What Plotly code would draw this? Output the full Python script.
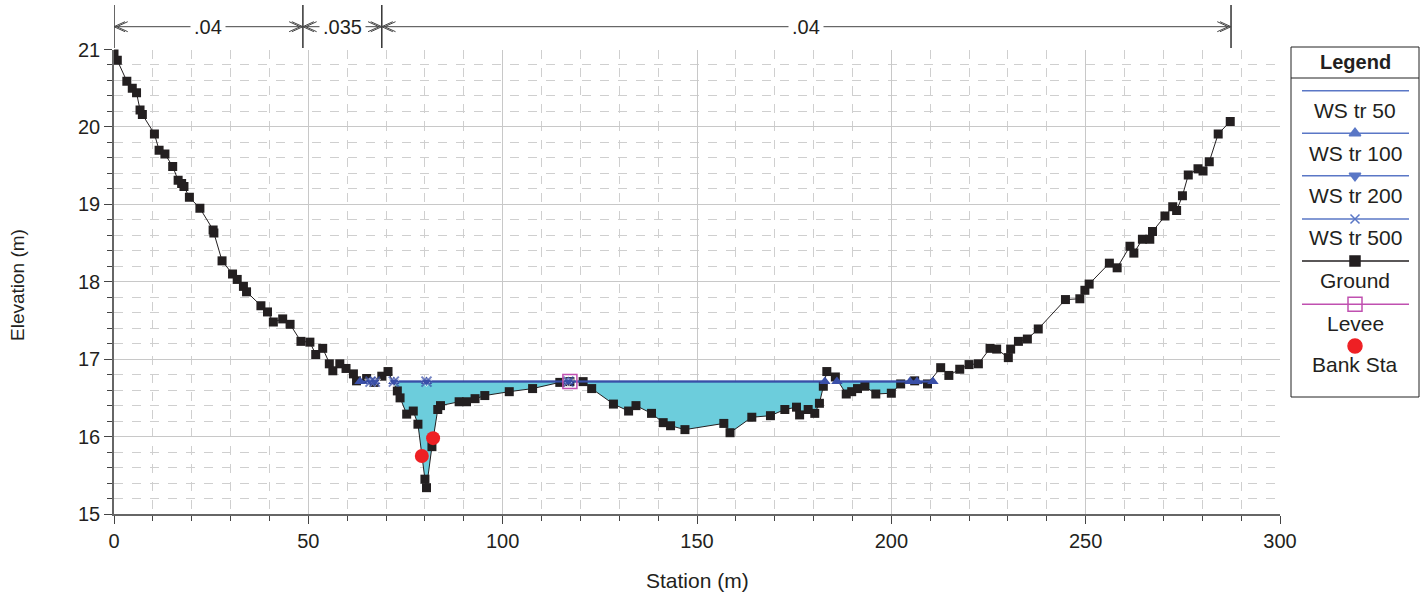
import numpy as np
import plotly.graph_objects as go

# ---------------- data ----------------
ground_sta = [0.0, 0.85, 3.3, 4.7, 5.8, 6.7, 7.3, 10.4, 11.6, 13.1, 15.1, 16.5, 17.4, 18.0, 19.4,
              22.1, 25.5, 25.7, 27.8, 30.5, 31.7, 33.3, 34.1, 37.8, 39.5, 41.0, 43.4, 45.3, 48.1,
              50.4, 51.9, 53.7, 55.4, 56.3, 58.1, 59.7, 61.6, 62.4, 65.0, 66.9, 68.9, 70.5, 72.9,
              73.6, 75.3, 77.0, 78.2, 80.0, 80.4, 81.8, 83.3, 84.0, 88.8, 90.7, 92.9, 95.4, 101.7,
              107.7, 114.7, 117.3, 120.7, 122.9, 128.5, 132.4, 134.3, 138.3, 141.3, 143.2, 146.9,
              156.9, 158.5, 164.1, 168.9, 172.6, 175.6, 176.4, 178.6, 180.3, 181.5, 182.5, 183.4,
              185.6, 188.4, 189.8, 191.3, 193.2, 196.0, 200.0, 202.4, 206.0, 209.3, 212.7, 214.8,
              217.6, 220.0, 222.4, 225.4, 227.1, 230.1, 230.7, 232.7, 235.0, 237.8, 244.8, 248.5,
              249.8, 250.9, 256.1, 258.1, 261.4, 262.4, 264.6, 266.5, 267.2, 270.4, 272.4, 273.4,
              274.9, 276.4, 278.9, 280.2, 281.8, 284.1, 287.2]
ground_elev = [20.97, 20.86, 20.59, 20.50, 20.44, 20.22, 20.16, 19.91, 19.70, 19.65, 19.49, 19.31,
               19.27, 19.23, 19.09, 18.95, 18.67, 18.63, 18.27, 18.10, 18.03, 17.94, 17.87, 17.69,
               17.61, 17.48, 17.52, 17.45, 17.23, 17.22, 17.06, 17.14, 16.94, 16.85, 16.94, 16.88,
               16.81, 16.72, 16.75, 16.70, 16.78, 16.84, 16.59, 16.50, 16.29, 16.33, 16.16, 15.45,
               15.34, 15.87, 16.35, 16.40, 16.45, 16.45, 16.49, 16.53, 16.58, 16.62, 16.70, 16.71,
               16.71, 16.62, 16.42, 16.33, 16.40, 16.30, 16.18, 16.14, 16.09, 16.17, 16.05, 16.25,
               16.27, 16.35, 16.38, 16.28, 16.35, 16.30, 16.43, 16.65, 16.84, 16.77, 16.55, 16.58,
               16.62, 16.65, 16.55, 16.56, 16.68, 16.72, 16.68, 16.89, 16.79, 16.87, 16.93, 16.94,
               17.14, 17.13, 17.02, 17.13, 17.23, 17.26, 17.39, 17.77, 17.78, 17.89, 17.97, 18.24,
               18.18, 18.46, 18.37, 18.55, 18.55, 18.65, 18.85, 18.97, 18.92, 19.11, 19.38, 19.46,
               19.43, 19.55, 19.91, 20.07]

ws_elev = 16.71
# water-surface stations (None = gap over dry ground)
ws_sta = [63.3, 66.0, 67.1, None, 72.0, 80.4, 116.9, 182.9, None, 186.0, 204.8, 206.6, 210.7]
ws_star_flag = [0, 1, 1, None, 1, 1, 1, 0, None, 0, 0, 0, 0]  # where tr200/tr500 markers show

levee_sta = [117.3]
levee_elev = [16.71]
bank_sta = [79.2, 82.1]
bank_elev = [15.75, 15.98]

n_breaks = [0.0, 48.6, 68.9, 287.4]
n_values = [".04", ".035", ".04"]

legend_names = ["WS tr 50", "WS tr 100", "WS tr 200", "WS tr 500", "Ground", "Levee", "Bank Sta"]

# ---------------- colours ----------------
WS_COLOR = "#3a4fa8"
LEG_WS = "#5a77c6"
FILL = "#6ccddc"
GROUND = "#231f20"
LEVEE = "#c050b0"
BANK = "#ee2024"
TXT = "#231f20"
FONT = "Arial, Liberation Sans, sans-serif"

W, H = 1428, 597
L, R, T, B = 114, 1280, 49.5, 514

# ---------------- wet fill ----------------
gx = np.array(ground_sta)
gy = np.array(ground_elev)
lo, hi = ws_sta[0], ws_sta[-1]
fx, fy = [lo], [min(float(np.interp(lo, gx, gy)), ws_elev)]
for i in range(len(gx) - 1):
    x0, x1, y0, y1 = float(gx[i]), float(gx[i + 1]), float(gy[i]), float(gy[i + 1])
    if lo < x0 < hi:
        fx.append(x0)
        fy.append(min(y0, ws_elev))
    if (y0 - ws_elev) * (y1 - ws_elev) < 0:
        xc = x0 + (ws_elev - y0) * (x1 - x0) / (y1 - y0)
        if lo < xc < hi:
            fx.append(xc)
            fy.append(ws_elev)
fx.append(hi)
fy.append(min(float(np.interp(hi, gx, gy)), ws_elev))
order = np.argsort(fx, kind="stable")
fx = [float(fx[k]) for k in order]
fy = [float(fy[k]) for k in order]

fig = go.Figure()

fig.add_trace(go.Scatter(x=fx, y=[ws_elev] * len(fx), mode="lines", line=dict(width=0),
                         hoverinfo="skip", showlegend=False))
fig.add_trace(go.Scatter(x=fx, y=fy, mode="lines", line=dict(width=0), fill="tonexty",
                         fillcolor=FILL, hoverinfo="skip", showlegend=False))

ws_y = [None if s is None else ws_elev for s in ws_sta]
fig.add_trace(go.Scatter(x=ws_sta, y=ws_y, mode="lines", name="WS tr 50",
                         line=dict(color=WS_COLOR, width=1.5), connectgaps=False, showlegend=False))

fig.add_trace(go.Scatter(x=ground_sta, y=ground_elev, mode="lines+markers", name="Ground",
                         line=dict(color=GROUND, width=1),
                         marker=dict(symbol="square", size=9, color=GROUND), showlegend=False))

fig.add_trace(go.Scatter(x=ws_sta, y=ws_y, mode="lines+markers", name="WS tr 100",
                         line=dict(color=WS_COLOR, width=1.5), connectgaps=False,
                         marker=dict(symbol="triangle-up", size=10, color=WS_COLOR), showlegend=False))
sizes = [0 if (f is None or f == 0) else 10 for f in ws_star_flag]
fig.add_trace(go.Scatter(x=ws_sta, y=ws_y, mode="lines+markers", name="WS tr 200",
                         line=dict(color=WS_COLOR, width=1.5), connectgaps=False,
                         marker=dict(symbol="triangle-down", size=sizes, color=WS_COLOR), showlegend=False))
fig.add_trace(go.Scatter(x=ws_sta, y=ws_y, mode="lines+markers", name="WS tr 500",
                         line=dict(color=WS_COLOR, width=1.5), connectgaps=False,
                         marker=dict(symbol="x-thin", size=sizes, color=WS_COLOR,
                                     line=dict(color=WS_COLOR, width=2)), showlegend=False))
fig.add_trace(go.Scatter(x=levee_sta, y=levee_elev, mode="markers", name="Levee",
                         marker=dict(symbol="square-open", size=14, color=LEVEE,
                                     line=dict(color=LEVEE, width=1.5)), showlegend=False))
fig.add_trace(go.Scatter(x=bank_sta, y=bank_elev, mode="markers", name="Bank Sta",
                         marker=dict(symbol="circle", size=14, color=BANK), showlegend=False))

# ---------------- legend (pixel overlay axis) ----------------
leg_line_y = [90.7, 133.3, 175.7, 219, 261, 304.3, None]
leg_text_y = [110.5, 153, 195.5, 237, 280, 323.5, 364]
leg_sym = [None, "triangle-up", "triangle-down", "x-thin", "square", "square-open", "circle"]
leg_col = [LEG_WS, LEG_WS, LEG_WS, LEG_WS, GROUND, LEVEE, BANK]
leg_size = [0, 10, 10, 9, 10, 14, 14]
cx = 1355
for i, nm in enumerate(legend_names):
    ly = leg_line_y[i]
    if ly is not None:
        fig.add_shape(type="line", xref="x3", yref="y3", x0=1302, x1=1409, y0=ly, y1=ly,
                      line=dict(color=leg_col[i], width=1.5))
    if leg_sym[i] is not None:
        my = ly if ly is not None else 346
        fig.add_trace(go.Scatter(x=[cx], y=[my], xaxis="x3", yaxis="y3", mode="markers",
                                 marker=dict(symbol=leg_sym[i], size=leg_size[i], color=leg_col[i],
                                             line=dict(color=leg_col[i], width=1.5)),
                                 showlegend=False, hoverinfo="skip"))
    fig.add_annotation(x=cx, y=leg_text_y[i], xref="x3", yref="y3", text=nm, showarrow=False,
                       xanchor="center", yanchor="middle",
                       font=dict(family=FONT, size=21, color=TXT))
fig.add_shape(type="rect", xref="x3", yref="y3", x0=1291, x1=1419, y0=47, y1=397,
              line=dict(color="#222", width=1))
fig.add_shape(type="line", xref="x3", yref="y3", x0=1291, x1=1419, y0=78, y1=78,
              line=dict(color="#222", width=1))
fig.add_annotation(x=cx, y=61.5, xref="x3", yref="y3", text="<b>Legend</b>", showarrow=False,
                   xanchor="center", yanchor="middle",
                   font=dict(family=FONT, size=20, color=TXT))

# ---------------- Manning's n annotations ----------------
def py2paper(p):
    return (H - p) / H

y_top, y_bot, y_arr = py2paper(5), py2paper(48), py2paper(26.7)
ah_dx = 11 / ((R - L) / 300.0)
ah_dy = 5 / H
for b in n_breaks:
    fig.add_shape(type="line", xref="x", yref="paper", x0=b, x1=b, y0=y_bot, y1=y_top,
                  line=dict(color="#333", width=1.5))
for i, val in enumerate(n_values):
    a, b = n_breaks[i], n_breaks[i + 1]
    fig.add_shape(type="line", xref="x", yref="paper", x0=a, x1=b, y0=y_arr, y1=y_arr,
                  line=dict(color="#444", width=1))
    for tip, d in ((a, ah_dx), (b, -ah_dx)):
        for off in (0, d * 0.25):
            fig.add_shape(type="path", xref="x", yref="paper",
                          path=f"M {tip+d+off},{y_arr+ah_dy} L {tip+off},{y_arr} L {tip+d+off},{y_arr-ah_dy}",
                          line=dict(color="#444", width=1))
    fig.add_annotation(x=(a + b) / 2, y=y_arr, xref="x", yref="paper", text=val, showarrow=False,
                       xanchor="center", yanchor="middle", bgcolor="white", borderpad=3,
                       font=dict(family=FONT, size=20, color=TXT))

# axis titles
fig.add_annotation(x=17 / W, y=py2paper(285), xref="paper", yref="paper", text="Elevation (m)",
                   textangle=-90, showarrow=False, xanchor="center", yanchor="middle",
                   font=dict(family=FONT, size=19, color=TXT))
fig.add_annotation(x=697 / W, y=py2paper(580), xref="paper", yref="paper", text="Station (m)",
                   showarrow=False, xanchor="center", yanchor="middle",
                   font=dict(family=FONT, size=21, color=TXT))

grid_major = "#c8c8c8"
grid_minor = "#cfcfcf"
fig.update_layout(
    width=W, height=H, autosize=False, margin=dict(l=0, r=0, t=0, b=0, pad=0, autoexpand=False),
    paper_bgcolor="white", plot_bgcolor="rgba(0,0,0,0)",
    font=dict(family=FONT, size=20, color=TXT),
    showlegend=False,
    xaxis=dict(domain=[L / W, R / W], range=[0, 300], dtick=50, tick0=0, automargin=False,
               showgrid=True, gridcolor=grid_major, gridwidth=1,
               showline=True, linecolor="#666", linewidth=1.5,
               ticks="outside", ticklen=8, tickcolor="#444",
               tickfont=dict(family=FONT, size=20, color=TXT), zeroline=False,
               minor=dict(dtick=10, showgrid=True, gridcolor=grid_minor, griddash="dash",
                          ticks="outside", ticklen=5, tickcolor="#444"),
               anchor="y"),
    yaxis=dict(domain=[(H - B) / H, (H - T) / H], range=[15, 21], dtick=1, tick0=15,
               automargin=False,
               showgrid=True, gridcolor=grid_major, gridwidth=1,
               showline=True, linecolor="#666", linewidth=1.5,
               ticks="outside", ticklen=8, tickcolor="#444",
               tickfont=dict(family=FONT, size=20, color=TXT), zeroline=False,
               minor=dict(dtick=0.2, showgrid=True, gridcolor=grid_minor, griddash="dash",
                          ticks="outside", ticklen=5, tickcolor="#444"),
               anchor="x"),
    xaxis3=dict(domain=[0, 1], range=[0, W], visible=False, anchor="y3", fixedrange=True,
                automargin=False),
    yaxis3=dict(domain=[0, 1], range=[H, 0], visible=False, anchor="x3", fixedrange=True,
                automargin=False),
)

fig.write_html("out.html", config={"displayModeBar": False},
               post_script="document.body.style.margin='0px';")
